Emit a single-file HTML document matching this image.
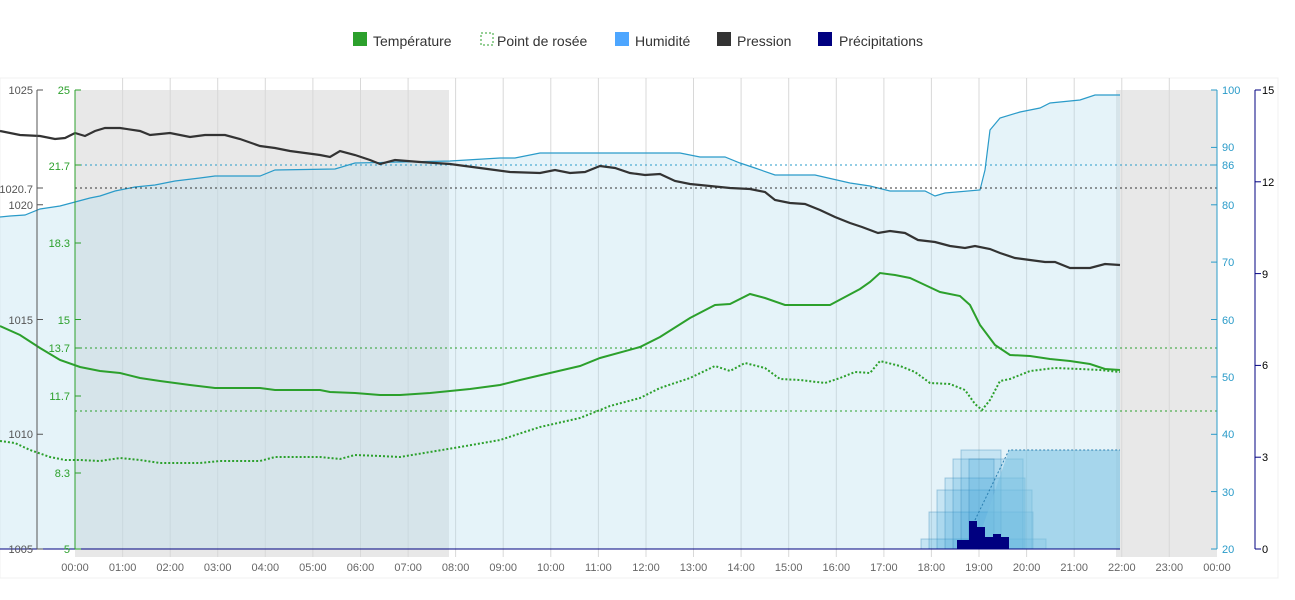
<!DOCTYPE html>
<html><head><meta charset="utf-8"><style>
body{margin:0;background:#fff;}
svg{display:block;font-family:"Liberation Sans",sans-serif;}
</style></head><body>
<svg width="1295" height="600" viewBox="0 0 1295 600">
<rect x="0" y="78" width="1278" height="500" fill="#fff" stroke="#f0f0f0"/>
<!-- legend -->
<g font-size="14" fill="#333">
<rect x="353" y="32" width="14" height="14" fill="#2ca02c"/><text x="373" y="46">Température</text>
<rect x="481" y="33" width="12" height="12" fill="none" stroke="#2ca02c" stroke-dasharray="2,2"/><text x="497" y="46">Point de rosée</text>
<rect x="615" y="32" width="14" height="14" fill="#4da6ff"/><text x="635" y="46">Humidité</text>
<rect x="717" y="32" width="14" height="14" fill="#333"/><text x="737" y="46">Pression</text>
<rect x="818" y="32" width="14" height="14" fill="#000080"/><text x="839" y="46">Précipitations</text>
</g>
<!-- night bands -->
<rect x="75" y="90" width="374" height="467" fill="#e8e8e8"/>
<rect x="1116" y="90" width="101" height="467" fill="#e8e8e8"/>
<!-- grid -->
<g stroke="#d8d8d8" stroke-width="1">
<line x1="122.6" y1="78" x2="122.6" y2="557"/><line x1="170.2" y1="78" x2="170.2" y2="557"/><line x1="217.7" y1="78" x2="217.7" y2="557"/><line x1="265.3" y1="78" x2="265.3" y2="557"/><line x1="312.9" y1="78" x2="312.9" y2="557"/><line x1="360.5" y1="78" x2="360.5" y2="557"/><line x1="408.1" y1="78" x2="408.1" y2="557"/><line x1="455.6" y1="78" x2="455.6" y2="557"/><line x1="503.2" y1="78" x2="503.2" y2="557"/><line x1="550.8" y1="78" x2="550.8" y2="557"/><line x1="598.4" y1="78" x2="598.4" y2="557"/><line x1="646" y1="78" x2="646" y2="557"/><line x1="693.5" y1="78" x2="693.5" y2="557"/><line x1="741.1" y1="78" x2="741.1" y2="557"/><line x1="788.7" y1="78" x2="788.7" y2="557"/><line x1="836.3" y1="78" x2="836.3" y2="557"/><line x1="883.9" y1="78" x2="883.9" y2="557"/><line x1="931.4" y1="78" x2="931.4" y2="557"/><line x1="979" y1="78" x2="979" y2="557"/><line x1="1026.6" y1="78" x2="1026.6" y2="557"/><line x1="1074.2" y1="78" x2="1074.2" y2="557"/><line x1="1121.8" y1="78" x2="1121.8" y2="557"/><line x1="1169.3" y1="78" x2="1169.3" y2="557"/>
</g>
<!-- humidity area -->
<polygon fill="#b5dcef" fill-opacity="0.35" stroke="none" points="0,549 0,217 10,216 25,215 40,209 60,206 75,202 90,198 100,196 115,191 135,187 155,185 175,181 200,178 215,176 260,176 275,170 335,169 355,163 450,161 500,158 515,158 540,153 680,153 700,157 725,157 740,163 755,168 775,175 815,175 850,183 870,186 890,191 925,191 935,196 945,193 980,190 985,170 990,130 1000,118 1020,112 1040,108 1050,103 1080,100 1095,95 1120,95 1120,549"/>
<polyline fill="none" stroke="#2a9bc9" stroke-width="1.2" points="0,217 10,216 25,215 40,209 60,206 75,202 90,198 100,196 115,191 135,187 155,185 175,181 200,178 215,176 260,176 275,170 335,169 355,163 450,161 500,158 515,158 540,153 680,153 700,157 725,157 740,163 755,168 775,175 815,175 850,183 870,186 890,191 925,191 935,196 945,193 980,190 985,170 990,130 1000,118 1020,112 1040,108 1050,103 1080,100 1095,95 1120,95"/>
<!-- dotted reference lines -->
<g stroke-dasharray="2,3" stroke-width="1">
<line x1="75" y1="165" x2="1217" y2="165" stroke="#2a9bc9"/>
<line x1="75" y1="188" x2="1217" y2="188" stroke="#333"/>
<line x1="75" y1="348" x2="1217" y2="348" stroke="#2ca02c"/>
<line x1="75" y1="411" x2="1217" y2="411" stroke="#2ca02c"/>
</g>
<!-- precip stacked -->
<g fill="#3a9fd6" fill-opacity="0.18" stroke="#2a7fb0" stroke-opacity="0.35">
<rect x="921" y="539" width="125" height="10"/>
<rect x="929" y="512" width="104" height="37"/>
<rect x="937" y="490" width="95" height="59"/>
<rect x="945" y="478" width="80" height="71"/>
<rect x="953" y="459" width="70" height="90"/>
<rect x="961" y="450" width="40" height="99"/>
<rect x="969" y="459" width="25" height="90"/>
</g>
<polygon fill="#7cc3e3" fill-opacity="0.6" points="975,549 1009,450 1120,450 1120,549"/>
<polyline fill="none" stroke="#2a7fb0" stroke-dasharray="2,2" points="975,520 1009,450 1120,450"/>
<g fill="#000080">
<rect x="957" y="540" width="12" height="9"/><rect x="969" y="521" width="8" height="28"/><rect x="977" y="527" width="8" height="22"/><rect x="985" y="537" width="8" height="12"/><rect x="993" y="534" width="8" height="15"/><rect x="1001" y="537" width="8" height="12"/>
</g>
<line x1="0" y1="549" x2="1120" y2="549" stroke="#000080" stroke-width="1"/>
<!-- pressure -->
<polyline fill="none" stroke="#333" stroke-width="2.2" points="0,131 20,135 40,136 55,139 65,138 75,133 85,136 95,131 105,128 120,128 140,131 150,135 170,133 190,137 205,135 225,135 240,139 260,146 275,148 290,151 305,153 320,155 330,157 340,151 355,155 370,160 380,164 395,160 420,162 450,164 480,168 510,172 540,173 555,170 570,173 585,172 600,166 615,168 630,173 645,175 660,174 675,181 690,184 710,186 730,188 750,189 765,192 775,200 790,203 805,204 820,210 835,217 850,223 862,227 878,233 890,231 905,233 918,240 935,242 950,246 965,248 975,246 990,249 1000,253 1015,258 1030,260 1045,262 1055,262 1070,268 1090,268 1105,264 1120,265"/>
<!-- temperature -->
<polyline fill="none" stroke="#2ca02c" stroke-width="2" points="0,326 20,335 40,348 60,360 80,367 100,371 120,373 140,378 160,381 190,385 215,388 260,388 275,390 320,390 330,392 355,393 380,395 400,395 430,393 470,389 500,385 520,380 550,373 580,366 600,358 640,347 660,337 690,318 715,305 730,304 750,294 765,298 785,305 830,305 845,297 860,289 870,282 880,273 895,275 910,278 925,285 940,292 960,296 970,305 980,325 995,345 1010,355 1030,356 1050,359 1070,361 1090,364 1105,369 1120,370"/>
<polyline fill="none" stroke="#2ca02c" stroke-width="2" stroke-dasharray="2,2" points="0,441 15,443 30,450 50,457 65,460 80,460 100,461 120,458 140,460 160,463 200,463 220,461 260,461 275,457 320,457 340,459 355,455 380,456 400,457 430,452 460,447 500,440 540,427 580,418 610,406 640,398 660,388 690,378 715,366 730,371 745,363 765,368 780,379 800,380 825,383 840,378 855,372 870,373 880,361 900,366 915,372 930,383 950,384 965,390 975,404 982,410 990,400 1000,381 1010,379 1030,371 1055,368 1080,369 1100,370 1120,372"/>
<!-- axes -->
<line x1="37" y1="90" x2="37" y2="549" stroke="#555"/>
<line x1="75" y1="90" x2="75" y2="549" stroke="#2ca02c"/>
<line x1="1217" y1="90" x2="1217" y2="549" stroke="#2a9bc9"/>
<line x1="1255" y1="90" x2="1255" y2="549" stroke="#000080"/>
<g font-size="11" fill="#555" text-anchor="end">
<g stroke="#555"><line x1="37" y1="90" x2="43" y2="90"/><line x1="37" y1="204.75" x2="43" y2="204.75"/><line x1="37" y1="319.5" x2="43" y2="319.5"/><line x1="37" y1="434.25" x2="43" y2="434.25"/><line x1="37" y1="549" x2="43" y2="549"/><line x1="37" y1="188" x2="43" y2="188"/></g>
<text x="33" y="94">1025</text><text x="33" y="209">1020</text><text x="33" y="193">1020.7</text><text x="33" y="324">1015</text><text x="33" y="438">1010</text><text x="33" y="553">1005</text>
</g>
<g font-size="11" fill="#2ca02c" text-anchor="end">
<g stroke="#2ca02c"><line x1="75" y1="90" x2="81" y2="90"/><line x1="75" y1="165" x2="81" y2="165"/><line x1="75" y1="243" x2="81" y2="243"/><line x1="75" y1="319.5" x2="81" y2="319.5"/><line x1="75" y1="348" x2="81" y2="348"/><line x1="75" y1="396" x2="81" y2="396"/><line x1="75" y1="473" x2="81" y2="473"/><line x1="75" y1="549" x2="81" y2="549"/></g>
<text x="70" y="94">25</text><text x="70" y="170">21.7</text><text x="70" y="247">18.3</text><text x="70" y="324">15</text><text x="70" y="352">13.7</text><text x="70" y="400">11.7</text><text x="70" y="477">8.3</text><text x="70" y="553">5</text>
</g>
<g font-size="11" fill="#2a9bc9">
<g stroke="#2a9bc9"><line x1="1211" y1="90" x2="1217" y2="90"/><line x1="1211" y1="147.4" x2="1217" y2="147.4"/><line x1="1211" y1="165" x2="1217" y2="165"/><line x1="1211" y1="204.8" x2="1217" y2="204.8"/><line x1="1211" y1="262.1" x2="1217" y2="262.1"/><line x1="1211" y1="319.5" x2="1217" y2="319.5"/><line x1="1211" y1="376.9" x2="1217" y2="376.9"/><line x1="1211" y1="434.3" x2="1217" y2="434.3"/><line x1="1211" y1="491.6" x2="1217" y2="491.6"/><line x1="1211" y1="549" x2="1217" y2="549"/></g>
<text x="1222" y="94">100</text><text x="1222" y="151">90</text><text x="1222" y="169">86</text><text x="1222" y="209">80</text><text x="1222" y="266">70</text><text x="1222" y="324">60</text><text x="1222" y="381">50</text><text x="1222" y="438">40</text><text x="1222" y="496">30</text><text x="1222" y="553">20</text>
</g>
<g font-size="11" fill="#000">
<g stroke="#000080"><line x1="1255" y1="90" x2="1261" y2="90"/><line x1="1255" y1="181.8" x2="1261" y2="181.8"/><line x1="1255" y1="273.6" x2="1261" y2="273.6"/><line x1="1255" y1="365.4" x2="1261" y2="365.4"/><line x1="1255" y1="457.2" x2="1261" y2="457.2"/><line x1="1255" y1="549" x2="1261" y2="549"/></g>
<text x="1262" y="94">15</text><text x="1262" y="186">12</text><text x="1262" y="278">9</text><text x="1262" y="369">6</text><text x="1262" y="461">3</text><text x="1262" y="553">0</text>
</g>
<g font-size="11" fill="#666" text-anchor="middle">
<text x="75" y="571">00:00</text><text x="122.6" y="571">01:00</text><text x="170.2" y="571">02:00</text><text x="217.7" y="571">03:00</text><text x="265.3" y="571">04:00</text><text x="312.9" y="571">05:00</text><text x="360.5" y="571">06:00</text><text x="408.1" y="571">07:00</text><text x="455.6" y="571">08:00</text><text x="503.2" y="571">09:00</text><text x="550.8" y="571">10:00</text><text x="598.4" y="571">11:00</text><text x="646" y="571">12:00</text><text x="693.5" y="571">13:00</text><text x="741.1" y="571">14:00</text><text x="788.7" y="571">15:00</text><text x="836.3" y="571">16:00</text><text x="883.9" y="571">17:00</text><text x="931.4" y="571">18:00</text><text x="979" y="571">19:00</text><text x="1026.6" y="571">20:00</text><text x="1074.2" y="571">21:00</text><text x="1121.8" y="571">22:00</text><text x="1169.3" y="571">23:00</text><text x="1217" y="571">00:00</text>
</g>
</svg>
</body></html>
